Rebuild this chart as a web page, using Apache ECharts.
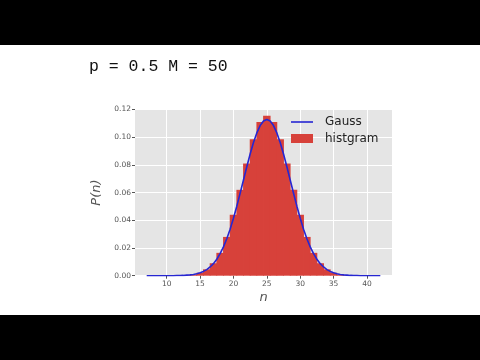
<!DOCTYPE html>
<html>
<head>
<meta charset="utf-8">
<script src="https://cdn.jsdelivr.net/npm/echarts@6/dist/echarts.min.js"></script>
<style>html,body{margin:0;padding:0;background:#000;}#c{width:480px;height:360px;}</style>
</head>
<body>
<div id="c"></div>
<script>
var titleText = 'p = 0.5 M = 50';
var xTicks = [10, 15, 20, 25, 30, 35, 40];
var yTicks = [0, 0.02, 0.04, 0.06, 0.08, 0.10, 0.12];
var histN = [13, 14, 15, 16, 17, 18, 19, 20, 21, 22, 23, 24, 25, 26, 27, 28, 29, 30, 31, 32, 33, 34, 35, 36, 37];
var histP = [0.0003, 0.0008, 0.0021, 0.0046, 0.0090, 0.0165, 0.0280, 0.0440, 0.0620, 0.0810, 0.0985, 0.1110, 0.1155,
             0.1110, 0.0985, 0.0810, 0.0620, 0.0440, 0.0280, 0.0165, 0.0090, 0.0046, 0.0021, 0.0008, 0.0003];
var gaussN = [7, 7.5, 8, 8.5, 9, 9.5, 10, 10.5, 11, 11.5, 12, 12.5, 13, 13.5, 14, 14.5, 15, 15.5, 16, 16.5,
              17, 17.5, 18, 18.5, 19, 19.5, 20, 20.5, 21, 21.5, 22, 22.5, 23, 23.5, 24, 24.5, 25, 25.5,
              26, 26.5, 27, 27.5, 28, 28.5, 29, 29.5, 30, 30.5, 31, 31.5, 32, 32.5, 33, 33.5, 34, 34.5,
              35, 35.5, 36, 36.5, 37, 37.5, 38, 38.5, 39, 39.5, 40, 40.5, 41, 41.5, 42];
var gaussP = [0, 0, 0, 0, 0, 0, 0, 0, 0, 0.0001, 0.0001, 0.0002, 0.0004, 0.0006, 0.0009, 0.0014, 0.0021, 0.0031,
              0.0044, 0.0063, 0.0087, 0.0119, 0.0159, 0.0208, 0.0267, 0.0336, 0.0415, 0.0502, 0.0595, 0.0691,
              0.0787, 0.0879, 0.0962, 0.1031, 0.1084, 0.1117, 0.1128,
              0.1117, 0.1084, 0.1031, 0.0962, 0.0879, 0.0787, 0.0691, 0.0595, 0.0502, 0.0415, 0.0336, 0.0267,
              0.0208, 0.0159, 0.0119, 0.0087, 0.0063, 0.0044, 0.0031, 0.0021, 0.0014, 0.0009, 0.0006, 0.0004,
              0.0002, 0.0001, 0.0001, 0, 0, 0, 0, 0, 0, 0];

var chart = echarts.init(document.getElementById('c'), null, {renderer: 'canvas'});
var tickFont = {fontSize: 7.5, color: '#555', fontFamily: 'DejaVu Sans'};
var nameFont = {fontStyle: 'italic', fontSize: 13, color: '#555', fontFamily: 'DejaVu Sans'};
chart.setOption({
  backgroundColor: '#000',
  animation: false,
  graphic: [
    {type: 'rect', left: 0, top: 45, shape: {width: 480, height: 270}, style: {fill: '#fff'}, z: -10}
  ],
  title: {
    text: titleText, left: 84, top: 53,
    textStyle: {fontFamily: 'Liberation Mono', fontSize: 16.5, fontWeight: 'normal', color: '#111'}
  },
  legend: {
    left: 286, top: 111, orient: 'vertical', itemWidth: 22, itemHeight: 9, itemGap: 4.5,
    textStyle: {fontSize: 12, color: '#222', fontFamily: 'DejaVu Sans', padding: [0, 0, 0, 7]},
    data: [
      {name: 'Gauss', icon: 'path://M0,0 L110,0 L110,8 L0,8 Z'},
      {name: 'histgram', icon: 'rect'}
    ]
  },
  grid: {left: 135, right: 88, top: 109.5, bottom: 84.3, show: true, backgroundColor: '#e5e5e5', borderWidth: 0},
  xAxis: {
    type: 'value', min: 5.25, max: 43.75,
    name: 'n', nameLocation: 'middle', nameGap: 15,
    nameTextStyle: nameFont,
    axisLine: {show: false},
    axisTick: {show: true, length: 3, lineStyle: {color: '#555'}, customValues: xTicks},
    axisLabel: Object.assign({margin: 4, customValues: xTicks}, tickFont),
    splitLine: {show: true, lineStyle: {color: '#fff', width: 1}}
  },
  yAxis: {
    type: 'value', min: 0, max: 0.12, interval: 0.02,
    name: 'P(n)', nameLocation: 'middle', nameGap: 23,
    nameTextStyle: nameFont,
    axisLine: {show: false},
    axisTick: {show: true, length: 3, lineStyle: {color: '#555'}},
    axisLabel: Object.assign({margin: 4, formatter: function (v) { return v.toFixed(2); }}, tickFont),
    splitLine: {show: true, lineStyle: {color: '#fff', width: 1}}
  },
  series: [
    {
      name: 'histgram', type: 'bar', barWidth: '112%', barGap: '0%', barCategoryGap: '0%',
      itemStyle: {color: '#d7413a', borderWidth: 0},
      data: histN.map(function (n, i) { return [n, histP[i]]; }), z: 2
    },
    {
      name: 'Gauss', type: 'line', symbol: 'none', smooth: false,
      lineStyle: {color: '#2626d2', width: 1.6},
      itemStyle: {color: '#2626d2'},
      data: gaussN.map(function (n, i) { return [n, gaussP[i]]; }), z: 3
    }
  ]
});
</script>
</body>
</html>
